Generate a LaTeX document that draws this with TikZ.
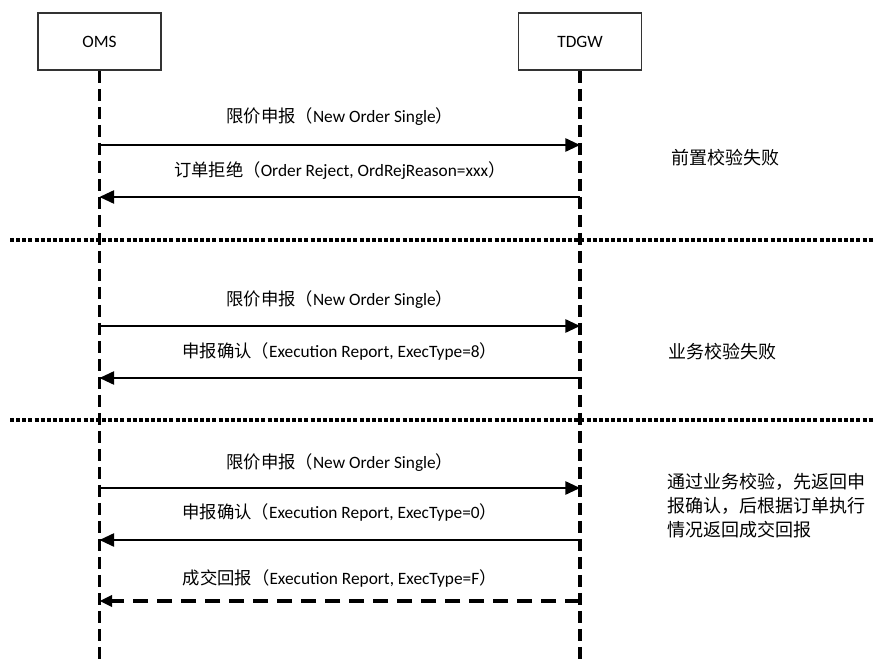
\documentclass[tikz,border=0pt]{standalone}
\usepackage{fontspec}
\setmainfont{Carlito}
\newfontfamily\cjk{Noto Sans CJK SC}
\usetikzlibrary{arrows.meta}
\begin{document}
\begin{tikzpicture}[x=0.75pt,y=-0.75pt,
  actor/.style={draw=black!80,line width=1.1pt,minimum width=92pt,minimum height=43pt,inner sep=0pt,font=\fontsize{13}{15}\selectfont},
  life/.style={line width=2.7pt,dash pattern=on 9pt off 4.5pt},
  msg/.style={line width=1.3pt,-{Triangle[length=11pt,width=10pt]}},
  amsg/.style={line width=2.8pt,dash pattern=on 11pt off 7pt,-{Triangle[length=9.5pt,width=8.5pt]}},
  sep/.style={line width=2.6pt,dash pattern=on 3pt off 1.6pt},
  lbl/.style={font=\fontsize{13}{15}\selectfont,inner sep=0pt},
  note/.style={font=\cjk\fontsize{13.5}{18}\selectfont,inner sep=0pt,align=left,anchor=west}]
\useasboundingbox (0,0) rectangle (873,659);
\node[actor] (oms) at (99.5,41.5) {OMS};
\node[actor] (tdgw) at (580,41.5) {TDGW};
\coordinate (omsend) at (99.5,659);
\coordinate (tdgwend) at (580,659);
\draw[life] (oms.south) -- (omsend);
\draw[life] (tdgw.south) -- (tdgwend);
% section 1
\coordinate (o1) at (99.5,145); \coordinate (t1) at (580,145);
\coordinate (o2) at (99.5,197); \coordinate (t2) at (580,197);
\draw[msg] (o1) -- (t1) node[lbl,midway,yshift=21pt] {{\cjk 限价申报（}New Order Single{\cjk ）}};
\draw[msg] (t2) -- (o2) node[lbl,midway,yshift=20pt] {{\cjk 订单拒绝（}Order Reject, OrdRejReason=xxx{\cjk ）}};
\node[note] (n1) at (671,158) {前置校验失败};
\coordinate (s1a) at (10,240); \coordinate (s1b) at (873,240);
\draw[sep] (s1a) -- (s1b);
% section 2
\coordinate (o3) at (99.5,326); \coordinate (t3) at (580,326);
\coordinate (o4) at (99.5,378); \coordinate (t4) at (580,378);
\draw[msg] (o3) -- (t3) node[lbl,midway,yshift=20pt] {{\cjk 限价申报（}New Order Single{\cjk ）}};
\draw[msg] (t4) -- (o4) node[lbl,midway,yshift=20pt] {{\cjk 申报确认（}Execution Report, ExecType=8{\cjk ）}};
\node[note] (n2) at (668,352) {业务校验失败};
\coordinate (s2a) at (10,420); \coordinate (s2b) at (873,420);
\draw[sep] (s2a) -- (s2b);
% section 3
\coordinate (o5) at (99.5,488); \coordinate (t5) at (580,488);
\coordinate (o6) at (99.5,540); \coordinate (t6) at (580,540);
\coordinate (o7) at (99.5,601); \coordinate (t7) at (580,601);
\draw[msg] (o5) -- (t5) node[lbl,midway,yshift=19pt] {{\cjk 限价申报（}New Order Single{\cjk ）}};
\draw[msg] (t6) -- (o6) node[lbl,midway,yshift=21pt] {{\cjk 申报确认（}Execution Report, ExecType=0{\cjk ）}};
\draw[amsg] (t7) -- (o7) node[lbl,midway,yshift=17pt] {{\cjk 成交回报（}Execution Report, ExecType=F{\cjk ）}};
\node[note] (n3) at (667,506) {通过业务校验，先返回申\\报确认，后根据订单执行\\情况返回成交回报};
\end{tikzpicture}
\end{document}
